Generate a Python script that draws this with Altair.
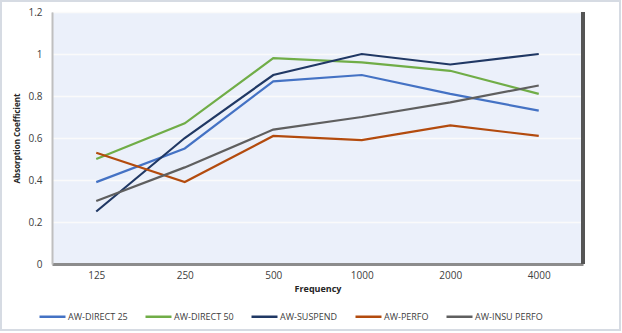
import altair as alt
import pandas as pd

freqs = ["125", "250", "500", "1000", "2000", "4000"]
series_names = ["AW-DIRECT 25", "AW-DIRECT 50", "AW-SUSPEND", "AW-PERFO", "AW-INSU PERFO"]
direct25 = [0.39, 0.55, 0.87, 0.90, 0.81, 0.73]
direct50 = [0.50, 0.67, 0.98, 0.96, 0.92, 0.81]
suspend = [0.25, 0.60, 0.90, 1.00, 0.95, 1.00]
perfo = [0.53, 0.39, 0.61, 0.59, 0.66, 0.61]
insu_perfo = [0.30, 0.46, 0.64, 0.70, 0.77, 0.85]
colors = ["#4472C4", "#70AD47", "#203864", "#B34B0E", "#5F5F5F"]

rows = []
for name, vals in zip(series_names, [direct25, direct50, suspend, perfo, insu_perfo]):
    for f, v in zip(freqs, vals):
        rows.append({"Frequency": f, "Value": v, "Series": name})
df = pd.DataFrame(rows)

W, H = 531, 252

lines = alt.Chart(df).mark_line(strokeWidth=2.2).encode(
    x=alt.X("Frequency:N", sort=freqs,
            scale=alt.Scale(type="point", padding=0.5),
            axis=alt.Axis(title="Frequency", labelAngle=0, ticks=False,
                          domainColor="#8c8c8c", domainWidth=3,
                          labelFont="Open Sans", labelFontSize=10, labelColor="#404040",
                          labelPadding=6, titleFont="Open Sans", titleFontSize=9,
                          titleFontWeight="bold", titleColor="#262626", titlePadding=4)),
    y=alt.Y("Value:Q", scale=alt.Scale(domain=[0, 1.2]),
            axis=alt.Axis(title="Absorption Coefficient", values=[0, 0.2, 0.4, 0.6, 0.8, 1, 1.2],
                          format="~g", ticks=False, domainColor="#bfbfbf", domainWidth=2,
                          gridColor="#fafafa", gridWidth=1.5,
                          labelFont="Open Sans", labelFontSize=10, labelColor="#404040",
                          labelPadding=10, titleFont="Open Sans", titleFontSize=8,
                          titleFontWeight="bold", titleColor="#262626", titlePadding=6)),
    color=alt.Color("Series:N", sort=series_names,
                    scale=alt.Scale(domain=series_names, range=colors),
                    legend=alt.Legend(title=None, orient="none", direction="horizontal",
                                      legendX=-14, legendY=290,
                                      symbolType="stroke", symbolSize=676, symbolStrokeWidth=2.5,
                                      labelFont="Open Sans", labelFontSize=9, labelColor="#404040",
                                      labelOffset=1, columnPadding=12)),
)

right_frame = alt.Chart(df).mark_rule(color="#555555", strokeWidth=3).encode(
    x=alt.value(W), y=alt.value(0), y2=alt.value(H)
)

outer = alt.Chart(df).mark_rect(fill=None, stroke="#d6dbe3", strokeWidth=2).encode(
    x=alt.value(-51), x2=alt.value(W + 37), y=alt.value(-11), y2=alt.value(H + 66)
)

chart = alt.layer(lines, right_frame, outer).properties(
    width=W, height=H,
    background="white",
    autosize=alt.AutoSizeParams(type="none"),
    padding={"left": 52, "top": 12, "right": 39, "bottom": 69},
).configure_view(
    fill="#ebf0fa", stroke="#d0d0d0"
)

chart.save("out.html", embed_options={"renderer": "svg", "actions": False})
